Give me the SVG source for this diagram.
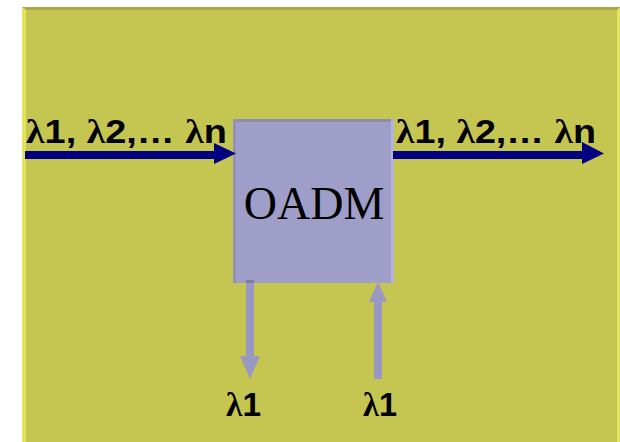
<svg xmlns="http://www.w3.org/2000/svg" width="620" height="442" viewBox="0 0 620 442">
<style>
.lbl{font-family:"Liberation Sans",Arial,sans-serif;font-weight:bold;font-size:34px;fill:#000}
.g{font-family:"Liberation Serif","Times New Roman",serif;font-weight:bold}
.main{fill:#000080}
.side{fill:#9898c0}
</style>
<rect width="620" height="442" fill="#ffffff"/>
<g id="background">
<rect x="22" y="7" width="598" height="435" fill="#c5c552"/>
<rect x="22" y="7" width="4" height="435" fill="#e3e35c"/>
<rect x="617" y="7" width="3" height="435" fill="#e3e35c"/>
<polygon points="22,7 620,7 617,10 26,10" fill="#a8a848"/>
</g>
<g id="oadm">
<rect x="233" y="119" width="161" height="164" fill="#9e9ec8"/>
<rect x="233" y="119" width="161" height="3" fill="#8c8cae"/>
<rect x="391" y="119" width="3" height="164" fill="#b4b4d8"/>
<rect x="233" y="119" width="3" height="164" fill="#9292bc"/>
<text x="314" y="219" text-anchor="middle" font-family="'Liberation Serif','Times New Roman',serif" font-size="46" fill="#000">OADM</text>
</g>
<g id="connectors">
<polygon class="main" points="25,151 214,151 214,143 236,153.5 214,164 214,159 25,159"/>
<polygon class="main" points="393,151 582,151 582,142 604,153.5 582,164 582,159 393,159"/>
<polygon class="side" points="246,280 254,280 254,356 260,356 250,379 240,356 246,356"/>
<rect x="246" y="280" width="8" height="3" fill="#7c7ca0"/>
<polygon class="side" points="374,379 382,379 382,302 387,302 378,282 369,302 374,302"/>
</g>
<g id="labels">
<text class="lbl" x="26" y="143" textLength="201" lengthAdjust="spacingAndGlyphs"><tspan class="g">λ</tspan>1, <tspan class="g">λ</tspan>2,… <tspan class="g">λ</tspan>n</text>
<text class="lbl" x="396" y="143" textLength="200" lengthAdjust="spacingAndGlyphs"><tspan class="g">λ</tspan>1, <tspan class="g">λ</tspan>2,… <tspan class="g">λ</tspan>n</text>
<text class="lbl" x="226" y="416" textLength="35" lengthAdjust="spacingAndGlyphs"><tspan class="g">λ</tspan>1</text>
<text class="lbl" x="363" y="416" textLength="34" lengthAdjust="spacingAndGlyphs"><tspan class="g">λ</tspan>1</text>
</g>
</svg>
